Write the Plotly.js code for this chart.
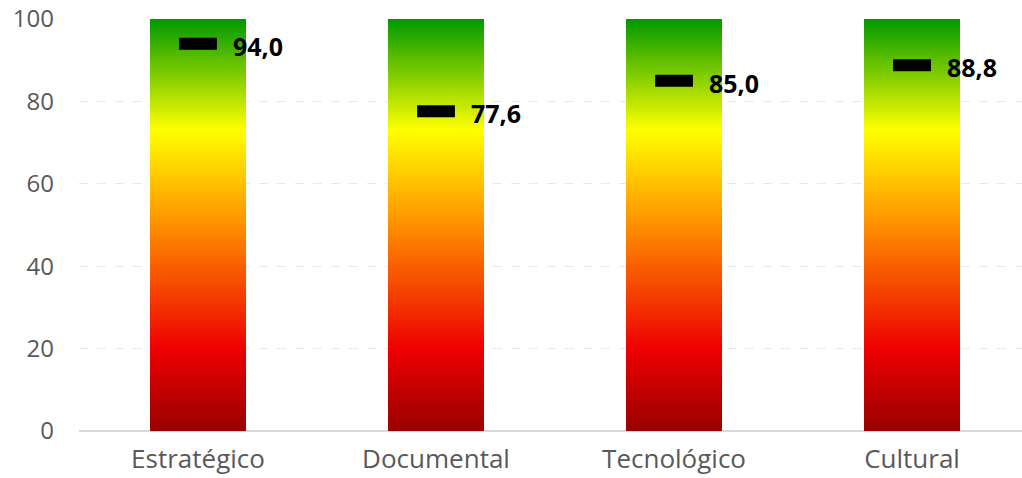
<!DOCTYPE html>
<html>
<head>
<meta charset="utf-8">
<script src="https://cdn.plot.ly/plotly-3.0.1.min.js"></script>
<style>html,body{margin:0;padding:0;background:#fff;}#chart{width:1022px;height:478px;}</style>
</head>
<body>
<div id="chart"></div>
<script>
// Data
const categories = ['Estratégico', 'Documental', 'Tecnológico', 'Cultural'];
const scores = [94.0, 77.6, 85.0, 88.8];
const scaleMax = [100, 100, 100, 100];
const yTicks = [0, 20, 40, 60, 80, 100];

// Gradient colour stops (fraction of bar height -> colour) - styling only
const gradStops = [
  [0.00, [153, 0, 0]],
  [0.20, [238, 0, 0]],
  [0.52, [255, 153, 0]],
  [0.73, [255, 255, 0]],
  [1.00, [0, 153, 0]]
];
function gradColor(f) {
  for (let i = 1; i < gradStops.length; i++) {
    if (f <= gradStops[i][0]) {
      const a = gradStops[i - 1], b = gradStops[i];
      const t = (f - a[0]) / (b[0] - a[0]);
      const c = a[1].map((v, k) => Math.round(v + (b[1][k] - v) * t));
      return 'rgb(' + c.join(',') + ')';
    }
  }
  const l = gradStops[gradStops.length - 1][1];
  return 'rgb(' + l.join(',') + ')';
}

// Build gradient bars as thin stacked slices of each category's full-scale bar
const nSlices = 200;
const gx = [], gy = [], gbase = [], gcol = [];
categories.forEach((c, i) => {
  const step = scaleMax[i] / nSlices;
  for (let s = 0; s < nSlices; s++) {
    gx.push(c);
    gbase.push(s * step);
    gy.push(step * 1.02);
    gcol.push(gradColor((s + 0.5) / nSlices));
  }
});

const barTrace = {
  type: 'bar',
  x: gx, y: gy, base: gbase,
  width: 0.403,
  marker: {color: gcol, line: {width: 0}},
  hoverinfo: 'skip',
  showlegend: false
};

const markerTrace = {
  type: 'scatter',
  mode: 'markers',
  x: categories,
  y: scores,
  marker: {symbol: 'line-ew', size: 27, color: '#000', line: {color: '#000', width: 12}},
  showlegend: false,
  hoverinfo: 'x+y'
};

const fmt = v => v.toFixed(1).replace('.', ',');
const annotations = categories.map((c, i) => ({
  x: c, y: scores[i], xref: 'x', yref: 'y',
  text: fmt(scores[i]),
  showarrow: false,
  xanchor: 'left', yanchor: 'middle',
  xshift: 33, yshift: -2,
  font: {family: 'Open Sans, sans-serif', size: 25, color: '#000', weight: 700}
}));

const layout = {
  width: 1022, height: 478,
  margin: {l: 79, r: 0, t: 19, b: 47, pad: 0},
  paper_bgcolor: '#fff', plot_bgcolor: '#fff',
  barmode: 'overlay',
  bargap: 0,
  font: {family: 'Open Sans, sans-serif', color: '#595959'},
  xaxis: {
    type: 'category',
    categoryarray: categories,
    range: [-0.5, 3.462],
    showgrid: false, showline: false, zeroline: false,
    ticks: '', ticklabelstandoff: 10,
    tickfont: {size: 26, color: '#595959'}
  },
  yaxis: {
    range: [0, 100],
    tickvals: yTicks,
    showgrid: true, gridcolor: '#e8e8e8', griddash: 'dash', gridwidth: 1,
    zeroline: true, zerolinecolor: '#d9d9d9', zerolinewidth: 2,
    showline: false, ticks: '', ticklabelstandoff: 24,
    tickfont: {size: 24, color: '#595959'}
  },
  annotations: annotations
};

Plotly.newPlot('chart', [barTrace, markerTrace], layout, {displayModeBar: false, staticPlot: true});
</script>
</body>
</html>
